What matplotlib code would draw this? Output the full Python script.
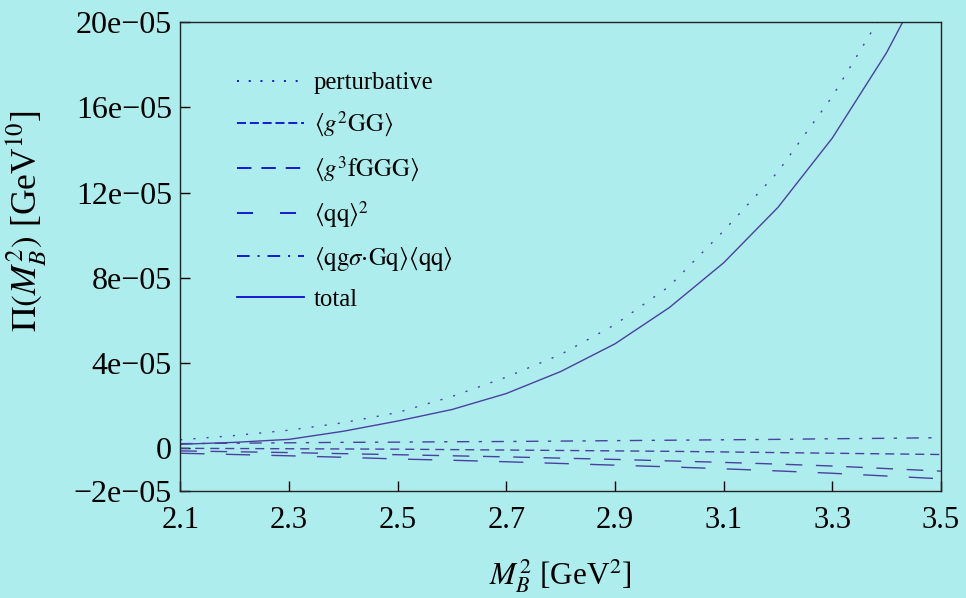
import matplotlib
matplotlib.use("Agg")
import matplotlib.pyplot as plt
from matplotlib.lines import Line2D
from matplotlib.ticker import FixedLocator, FixedFormatter

# ---- data (values in units of 1e-5 GeV^10) ----
m2 = [2.1, 2.2, 2.3, 2.4, 2.5, 2.6, 2.7, 2.8, 2.9, 3.0, 3.1, 3.2, 3.3, 3.4, 3.5]
perturbative = [0.40, 0.60, 0.85, 1.20, 1.68, 2.43, 3.34, 4.40, 5.80, 7.60, 10.20, 12.97, 16.50, 20.70, 25.80]
g2GG = [0.00, -0.01, -0.02, -0.03, -0.04, -0.06, -0.08, -0.10, -0.12, -0.14, -0.17, -0.20, -0.23, -0.26, -0.29]
g3fGGG = [-0.12, -0.16, -0.20, -0.25, -0.30, -0.35, -0.40, -0.46, -0.52, -0.59, -0.66, -0.74, -0.83, -0.95, -1.07]
qq2 = [-0.23, -0.29, -0.35, -0.42, -0.50, -0.56, -0.63, -0.71, -0.79, -0.87, -0.96, -1.06, -1.17, -1.30, -1.43]
mixed = [0.22, 0.24, 0.26, 0.28, 0.29, 0.31, 0.32, 0.34, 0.36, 0.38, 0.40, 0.42, 0.45, 0.47, 0.50]
total = [0.19, 0.28, 0.42, 0.80, 1.28, 1.82, 2.57, 3.60, 4.90, 6.60, 8.70, 11.30, 14.55, 18.56, 23.40]

scale = 1e-5
xticks = [2.1, 2.3, 2.5, 2.7, 2.9, 3.1, 3.3, 3.5]
xticklabels = ["2.1", "2.3", "2.5", "2.7", "2.9", "3.1", "3.3", "3.5"]
yticks = [-2e-5, 0, 4e-5, 8e-5, 12e-5, 16e-5, 20e-5]
yticklabels = ["\u22122e\u221205", "0", "4e\u221205", "8e\u221205", "12e\u221205", "16e\u221205", "20e\u221205"]
labels = ["perturbative",
          r"$\langle g^2\mathrm{GG}\rangle$",
          r"$\langle g^3\mathrm{fGGG}\rangle$",
          r"$\langle \mathrm{qq}\rangle^2$",
          r"$\langle \mathrm{qg}\sigma{\cdot}\mathrm{Gq}\rangle\langle \mathrm{qq}\rangle$",
          "total"]

plt.rcParams["font.family"] = ["Liberation Serif", "DejaVu Serif"]
plt.rcParams["mathtext.fontset"] = "stix"

bg = "#AEEDED"
line_c = "#4A40A0"
leg_c = "#0A0ACC"

fig = plt.figure(figsize=(9.66, 5.98), dpi=100, facecolor=bg)
ax = fig.add_axes([0.1866, 0.179, 0.7874, 0.7842], facecolor=bg)

series = [perturbative, g2GG, g3fGGG, qq2, mixed, total]
plot_dashes = [(1.5, 8.0), (6.5, 4.3), (12, 9.8), (17.5, 15.3), (8.9, 6.8, 2.4, 6.8), None]
legend_dashes = [(1.1, 5.4), (5.0, 2.1), (8.0, 5.5), (8.9, 14.9), (7.0, 4.4, 1.1, 4.4), None]
handles = []
for vals, d, ld in zip(series, plot_dashes, legend_dashes):
    y = [v * scale for v in vals]
    ln, = ax.plot(m2, y, color=line_c, lw=1.0)
    h = Line2D([], [], color=leg_c, lw=1.3)
    if d is not None:
        ln.set_dashes(d)
        h.set_dashes(ld)
    handles.append(h)

ax.set_xlim(2.1, 3.5)
ax.set_ylim(-2e-5, 20e-5)
ax.xaxis.set_major_locator(FixedLocator(xticks))
ax.xaxis.set_major_formatter(FixedFormatter(xticklabels))
ax.yaxis.set_major_locator(FixedLocator(yticks))
ax.yaxis.set_major_formatter(FixedFormatter(yticklabels))
ax.tick_params(direction="in", length=7, width=1, top=False, right=False)
ax.tick_params(axis="x", labelsize=22, pad=11)
ax.tick_params(axis="y", labelsize=23, pad=6)
for s in ax.spines.values():
    s.set_linewidth(1.0)
    s.set_color("#222222")

ax.set_xlabel(r"$M_B^2$ [GeV$^2$]", fontsize=22.5, labelpad=16)
ax.set_ylabel(r"$\Pi(M_B^2)$ [GeV$^{10}$]", fontsize=25.5)
ax.yaxis.set_label_coords(-0.172, 0.576)

ax.legend(handles, labels, loc="upper left", bbox_to_anchor=(0.052, 0.93),
          frameon=False, fontsize=17.8, handlelength=2.7, handletextpad=0.4,
          labelspacing=0.62, borderaxespad=0.3)

fig.savefig("out.png", dpi=100, facecolor=bg)
